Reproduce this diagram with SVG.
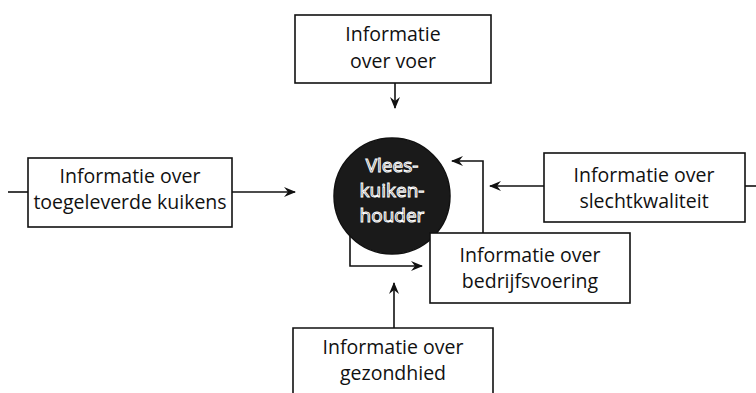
<svg xmlns="http://www.w3.org/2000/svg" width="756" height="393" viewBox="0 0 756 393">
<defs>
<marker id="ah" viewBox="0 0 12 10" refX="11" refY="5" markerWidth="12" markerHeight="10" markerUnits="userSpaceOnUse" orient="auto">
<path d="M0,0 L12,5 L0,10 L4,5 z" fill="#111"/>
</marker>
<style>
.box{fill:#fff;stroke:#111;stroke-width:1.6}
.t{font-family:"Open Sans","Noto Sans",sans-serif;font-size:19.5px;fill:#111;text-anchor:middle}
.c{font-family:"Open Sans","Noto Sans",sans-serif;font-size:19px;fill:#222;stroke:#fff;stroke-width:1;text-anchor:middle}
.ln{fill:none;stroke:#111;stroke-width:1.6}
</style>
</defs>
<g id="connectors">
<line class="ln" x1="395" y1="83" x2="395" y2="108" marker-end="url(#ah)"/>
<line class="ln" x1="8" y1="192" x2="28" y2="192"/>
<line class="ln" x1="232" y1="192" x2="295" y2="192" marker-end="url(#ah)"/>
<line class="ln" x1="745" y1="186" x2="756" y2="186"/>
<line class="ln" x1="544" y1="186" x2="490" y2="186" marker-end="url(#ah)"/>
<polyline class="ln" points="483,233 483,161 452,161" marker-end="url(#ah)"/>
<polyline class="ln" points="350,232 350,266 422,266" marker-end="url(#ah)"/>
<line class="ln" x1="394" y1="328" x2="394" y2="283" marker-end="url(#ah)"/>
</g>
<g id="node-voer">
<rect class="box" x="295" y="15" width="196" height="68"/>
<text class="t" x="393" y="41">Informatie</text>
<text class="t" x="393" y="68">over voer</text>
</g>
<g id="node-kuikens">
<rect class="box" x="28" y="158" width="204" height="69"/>
<text class="t" x="130" y="183">Informatie over</text>
<text class="t" x="130" y="209">toegeleverde kuikens</text>
</g>
<g id="node-houder">
<circle cx="392" cy="196" r="58" fill="#1a1a1a" stroke="#111" stroke-width="1.5"/>
<text class="c" x="392" y="172">Vlees-</text>
<text class="c" x="392" y="197">kuiken-</text>
<text class="c" x="392" y="222">houder</text>
</g>
<g id="node-slacht">
<rect class="box" x="544" y="153" width="201" height="69"/>
<text class="t" x="644" y="182">Informatie over</text>
<text class="t" x="644" y="208">slechtkwaliteit</text>
</g>
<g id="node-bedrijf">
<rect class="box" x="430" y="233" width="200" height="70"/>
<text class="t" x="530" y="262">Informatie over</text>
<text class="t" x="530" y="288">bedrijfsvoering</text>
</g>
<g id="node-gezondheid">
<path class="box" d="M293,394 L293,328 L493,328 L493,394"/>
<text class="t" x="393" y="354">Informatie over</text>
<text class="t" x="393" y="380">gezondhied</text>
</g>
</svg>
